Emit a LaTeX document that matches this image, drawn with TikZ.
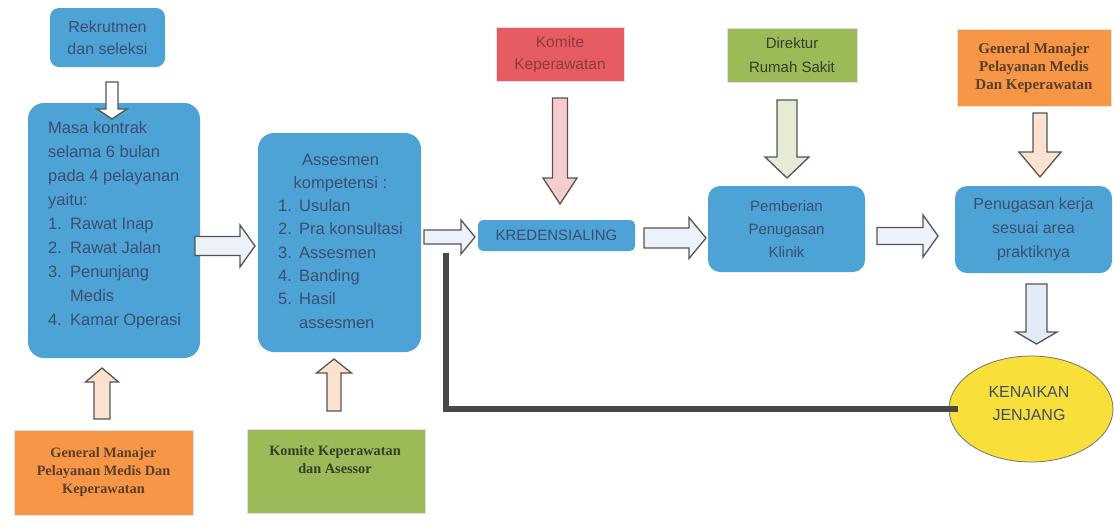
\documentclass[tikz,border=0pt]{standalone}
\usepackage{fontspec}
\setmainfont{Liberation Sans}
\newfontfamily\serifbf{Liberation Serif}
\usetikzlibrary{shapes.geometric,calc}
\definecolor{boxblue}{RGB}{78,163,214}
\definecolor{txtblue}{RGB}{62,78,108}
\definecolor{orangebox}{RGB}{247,150,70}
\definecolor{greenbox}{RGB}{155,187,89}
\definecolor{redbox}{RGB}{231,92,98}
\definecolor{yellowbox}{RGB}{249,223,58}
\definecolor{arrline}{RGB}{85,85,85}
\definecolor{arrwhite}{RGB}{236,242,250}
\definecolor{arrpink}{RGB}{246,204,204}
\definecolor{arrgreen}{RGB}{228,236,214}
\definecolor{arrpeach}{RGB}{250,226,206}
\definecolor{arrblue}{RGB}{226,236,248}
\definecolor{darkline}{RGB}{72,72,72}
\definecolor{browntxt}{RGB}{88,62,45}
\definecolor{greentxt}{RGB}{52,62,40}
\definecolor{redtxt}{RGB}{140,60,62}
\newcommand\itemnum[1]{\makebox[22pt][l]{#1}}
\newcommand\itemnumb[1]{\makebox[21pt][l]{#1}}
% horizontal block arrow: fill, yc, xstart, xbase, xtip, shaft half, head half
\newcommand\harr[7]{\draw[blockarrow, fill=#1] (#3,#2-#6) -- (#4,#2-#6) -- (#4,#2-#7) -- (#5,#2) -- (#4,#2+#7) -- (#4,#2+#6) -- (#3,#2+#6) -- cycle;}
% vertical block arrow: fill, xc, ystart, ybase, ytip, shaft half, head half
\newcommand\varr[7]{\draw[blockarrow, fill=#1] (#2-#6,#3) -- (#2-#6,#4) -- (#2-#7,#4) -- (#2,#5) -- (#2+#7,#4) -- (#2+#6,#4) -- (#2+#6,#3) -- cycle;}
\begin{document}
\begin{tikzpicture}[x=1pt,y=-1pt,
  bluebox/.style={fill=boxblue, rounded corners=9pt, text=txtblue, align=center, inner sep=0pt},
  bigblue/.style={bluebox, rounded corners=16pt},
  bodytext/.style={text=txtblue, inner sep=0pt, align=left},
  colbox/.style={draw=black!12, line width=0.8pt, inner sep=0pt, align=center},
  blockarrow/.style={draw=arrline, line width=1.3pt, line join=miter},
  linkline/.style={draw=darkline, line width=6pt}
]
\useasboundingbox[fill=white] (0,0) rectangle (1114,523);

% ---------- blue process boxes ----------
\node[bluebox, minimum width=115pt, minimum height=59pt, font=\fontsize{16}{22}\selectfont] (rekrut) at (107.5,37.5) {Rekrutmen\\dan seleksi};
\node[bigblue, minimum width=172pt, minimum height=255pt] (masa) at (114,230.5) {};
\node[bodytext, anchor=base west] (masatext) at (48,133) {\fontsize{16.5}{24}\selectfont
\begin{tabular}[t]{@{}l@{}}
Masa kontrak\\
selama 6 bulan\\
pada 4 pelayanan\\
yaitu:\\
\itemnum{1.}Rawat Inap\\
\itemnum{2.}Rawat Jalan\\
\itemnum{3.}Penunjang\\
\hspace*{22pt}Medis\\
\itemnum{4.}Kamar Operasi
\end{tabular}};
\node[bigblue, minimum width=163pt, minimum height=219pt] (assess) at (339.5,242.5) {};
\node[bodytext, anchor=base west] (assesstext) at (278,165) {\fontsize{16.5}{23.3}\selectfont
\begin{tabular}[t]{@{}l@{}}
\multicolumn{1}{@{}c@{}}{Assesmen}\\
\multicolumn{1}{@{}c@{}}{kompetensi :}\\
\itemnumb{1.}Usulan\\
\itemnumb{2.}Pra konsultasi\\
\itemnumb{3.}Assesmen\\
\itemnumb{4.}Banding\\
\itemnumb{5.}Hasil\\
\hspace*{21pt}assesmen
\end{tabular}};
\node[bluebox, rounded corners=5pt, minimum width=157pt, minimum height=31pt, font=\fontsize{15}{20}\selectfont] (kred) at (556.5,235.5) {KREDENSIALING};
\node[bluebox, rounded corners=12pt, minimum width=157pt, minimum height=86pt, font=\fontsize{15}{23}\selectfont] (pemberian) at (786.5,229) {Pemberian\\Penugasan\\Klinik};
\node[bluebox, rounded corners=12pt, minimum width=157pt, minimum height=87pt, font=\fontsize{16}{24}\selectfont] (penugasan) at (1033.5,229.5) {Penugasan kerja\\sesuai area\\praktiknya};

% ---------- coloured authority boxes ----------
\node[colbox, fill=redbox, text=redtxt, minimum width=128pt, minimum height=54pt, font=\fontsize{15.5}{22}\selectfont] (komite) at (560,54) {Komite\\Keperawatan};
\node[colbox, fill=greenbox, text=greentxt, minimum width=130pt, minimum height=54pt, font=\fontsize{15}{24}\selectfont] (direktur) at (792,55) {Direktur\\Rumah Sakit};
\node[colbox, fill=orangebox, text=browntxt, minimum width=154pt, minimum height=77pt, font=\serifbf\bfseries\fontsize{15}{18}\selectfont] (gmtop) at (1034,67.5) {General Manajer\\Pelayanan Medis\\Dan Keperawatan};
\node[colbox, fill=orangebox, text=browntxt, minimum width=179pt, minimum height=85pt, font=\serifbf\bfseries\fontsize{14.3}{18}\selectfont] (gmbot) at (103.5,472.5) {General Manajer\\Pelayanan Medis Dan\\Keperawatan};
\node[colbox, fill=greenbox, minimum width=178pt, minimum height=84pt] (komite2) at (336,471) {};
\node[text=greentxt, align=center, inner sep=0pt, font=\serifbf\bfseries\fontsize{14.3}{18}\selectfont] (komite2text) at (335,460) {Komite Keperawatan\\dan Asessor};

% ---------- goal ----------
\node[ellipse, draw=black!55, line width=0.8pt, fill=yellowbox, minimum width=164pt, minimum height=106pt, inner sep=0pt] (kenaikan) at (1031,409) {};
\node[text=txtblue, align=center, inner sep=0pt, font=\fontsize{16}{23}\selectfont] (kenaikantext) at (1029,404) {KENAIKAN\\JENJANG};

% ---------- feedback line ----------
\coordinate (lstart) at (446,253);
\draw[linkline] (lstart) |- ($(kenaikan.west)+(9,0)$);

% ---------- block arrows ----------
\varr{white}{112}{82}{109}{119}{6}{15}
\harr{arrwhite}{246}{195}{240}{255}{9.5}{21}
\harr{arrwhite}{237}{424}{461}{475}{7}{17}
\harr{arrwhite}{238}{644}{689}{706}{10}{20.5}
\harr{arrwhite}{236}{877}{923}{938}{8.5}{21}
\varr{arrpink}{560}{98}{178}{204}{7.5}{17}
\varr{arrgreen}{787}{100}{157}{178}{10}{22}
\varr{arrpeach}{1040}{113}{152}{177}{7}{21}
\varr{arrblue}{1036.5}{284}{332}{344}{10.5}{20.5}
\varr{arrpeach}{102}{419}{382}{368}{8}{16.5}
\varr{arrpeach}{334}{411}{373}{359}{7}{17.5}
\end{tikzpicture}
\end{document}
